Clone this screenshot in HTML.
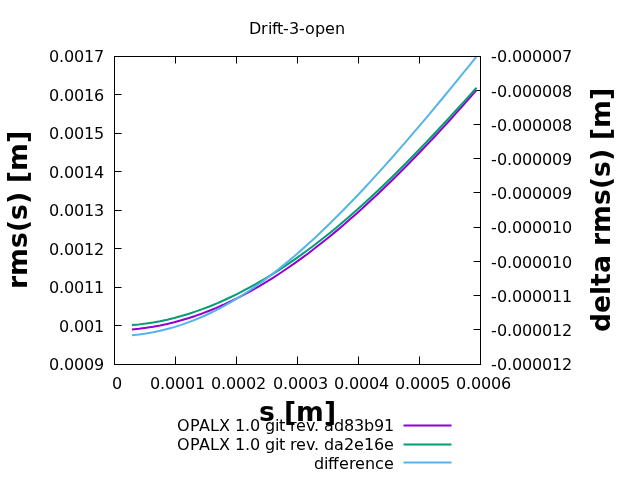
<!DOCTYPE html><html><head><meta charset="utf-8"><title>Drift-3-open</title><style>html,body{margin:0;padding:0;background:#fff;overflow:hidden;}svg{display:block;will-change:transform;}text{font-family:"DejaVu Sans","Liberation Sans",sans-serif;font-size:16px;fill:#000;}</style></head><body>
<svg width="640" height="480" viewBox="0 0 640 480">
<g>
<text x="49 59 64 74 84 94" y="62">0.0017</text>
<text x="49 59 64 74 84 94" y="101">0.0016</text>
<text x="49 59 64 74 84 94" y="139">0.0015</text>
<text x="49 59 64 74 84 94" y="178">0.0014</text>
<text x="49 59 64 74 84 94" y="216">0.0013</text>
<text x="49 59 64 74 84 94" y="255">0.0012</text>
<text x="49 59 64 74 84 94" y="293">0.0011</text>
<text x="59 69 74 84 94" y="332">0.001</text>
<text x="49 59 64 74 84 94" y="370">0.0009</text>
<text x="491 497 507 512 522 532 542 552 562" y="62">-0.000007</text>
<text x="491 497 507 512 522 532 542 552 562" y="97">-0.000008</text>
<text x="491 497 507 512 522 532 542 552 562" y="131">-0.000008</text>
<text x="491 497 507 512 522 532 542 552 562" y="165">-0.000009</text>
<text x="491 497 507 512 522 532 542 552 562" y="199">-0.000009</text>
<text x="491 497 507 512 522 532 542 552 562" y="233">-0.000010</text>
<text x="491 497 507 512 522 532 542 552 562" y="268">-0.000010</text>
<text x="491 497 507 512 522 532 542 552 562" y="302">-0.000011</text>
<text x="491 497 507 512 522 532 542 552 562" y="336">-0.000012</text>
<text x="491 497 507 512 522 532 542 552 562" y="370">-0.000012</text>
<text x="112" y="389">0</text>
<text x="150 160 165 175 185 195" y="389">0.0001</text>
<text x="211 221 226 236 246 256" y="389">0.0002</text>
<text x="273 283 288 298 308 318" y="389">0.0003</text>
<text x="334 344 349 359 369 379" y="389">0.0004</text>
<text x="395 405 410 420 430 440" y="389">0.0005</text>
<text x="456 466 471 481 491 501" y="389">0.0006</text>
<text x="249 261 268 272 277 283 289 299 305 315 325 335" y="34">Drift-3-open</text>
<text x="177 190 199 210 219 230 235 245 250 260 265 275 279 285 290 296 306 314 319 324 334 344 354 364 374 384" y="431">OPALX 1.0 git rev. ad83b91</text>
<text x="177 190 199 210 219 230 235 245 250 260 265 275 279 285 290 296 306 314 319 324 334 344 354 364 374 384" y="450">OPALX 1.0 git rev. da2e16e</text>
<text x="314 324 328 333 339 349 355 365 375 384" y="469">difference</text>
<text x="259 275 284 296 324" y="421" style="font-size:26.6667px" font-weight="bold">s [m]</text>
<text x="0 13 41 57 69 85 97 106 118 146" y="0" style="font-size:26.6667px" font-weight="bold" transform="translate(27,289) rotate(-90)">rms(s) [m]</text>
<text x="0 19 37 46 59 77 86 99 127 143 155 171 183 192 204 232" y="0" style="font-size:26.6667px" font-weight="bold" transform="translate(610,332) rotate(-90)">delta rms(s) [m]</text>
</g>
<path d="M114,94.5H121.5M114,133.5H121.5M114,171.5H121.5M114,210.5H121.5M114,248.5H121.5M114,287.5H121.5M114,325.5H121.5M480,90.5H473.5M480,124.5H473.5M480,158.5H473.5M480,192.5H473.5M480,227.5H473.5M480,261.5H473.5M480,295.5H473.5M480,329.5H473.5M175.5,364V356.5M175.5,56V63.5M236.5,364V356.5M236.5,56V63.5M297.5,364V356.5M297.5,56V63.5M358.5,364V356.5M358.5,56V63.5M419.5,364V356.5M419.5,56V63.5" stroke="#000" stroke-width="1" fill="none"/>
<clipPath id="c"><rect x="114" y="56.5" width="367" height="308"/></clipPath>
<g fill="none" stroke-width="2" stroke-linejoin="round" clip-path="url(#c)">
<path d="M132.00,329.41 L139.03,328.70 L146.06,327.80 L153.09,326.70 L160.12,325.40 L167.15,323.91 L174.18,322.21 L181.21,320.32 L188.24,318.22 L195.28,315.93 L202.31,313.44 L209.34,310.75 L216.37,307.87 L223.40,304.79 L230.43,301.52 L237.46,298.06 L244.49,294.42 L251.52,290.59 L258.55,286.58 L265.58,282.39 L272.61,278.03 L279.64,273.49 L286.67,268.78 L293.70,263.91 L300.73,258.87 L307.77,253.68 L314.80,248.32 L321.83,242.82 L328.86,237.17 L335.89,231.37 L342.92,225.43 L349.95,219.36 L356.98,213.15 L364.01,206.81 L371.04,200.34 L378.07,193.75 L385.10,187.04 L392.13,180.21 L399.16,173.27 L406.19,166.22 L413.22,159.06 L420.26,151.79 L427.29,144.42 L434.32,136.95 L441.35,129.38 L448.38,121.71 L455.41,113.95 L462.44,106.10 L469.47,98.15 L476.50,90.11" stroke="#9400d3"/>
<path d="M132.00,325.01 L139.03,324.38 L146.06,323.53 L153.09,322.45 L160.12,321.17 L167.15,319.67 L174.18,317.96 L181.21,316.06 L188.24,313.95 L195.28,311.64 L202.31,309.14 L209.34,306.45 L216.37,303.57 L223.40,300.51 L230.43,297.26 L237.46,293.83 L244.49,290.22 L251.52,286.43 L258.55,282.47 L265.58,278.33 L272.61,274.03 L279.64,269.55 L286.67,264.91 L293.70,260.10 L300.73,255.13 L307.77,250.00 L314.80,244.71 L321.83,239.27 L328.86,233.67 L335.89,227.92 L342.92,222.03 L349.95,215.99 L356.98,209.81 L364.01,203.49 L371.04,197.04 L378.07,190.46 L385.10,183.76 L392.13,176.94 L399.16,170.00 L406.19,162.95 L413.22,155.79 L420.26,148.54 L427.29,141.19 L434.32,133.76 L441.35,126.24 L448.38,118.66 L455.41,111.01 L462.44,103.31 L469.47,95.56 L476.50,87.78" stroke="#009e73"/>
<path d="M132.00,335.21 L139.03,334.47 L146.06,333.49 L153.09,332.26 L160.12,330.80 L167.15,329.08 L174.18,327.11 L181.21,324.89 L188.24,322.42 L195.28,319.70 L202.31,316.73 L209.34,313.50 L216.37,310.04 L223.40,306.33 L230.43,302.37 L237.46,298.18 L244.49,293.76 L251.52,289.11 L258.55,284.24 L265.58,279.15 L272.61,273.84 L279.64,268.33 L286.67,262.62 L293.70,256.72 L300.73,250.62 L307.77,244.35 L314.80,237.90 L321.83,231.29 L328.86,224.51 L335.89,217.58 L342.92,210.51 L349.95,203.29 L356.98,195.95 L364.01,188.48 L371.04,180.89 L378.07,173.18 L385.10,165.37 L392.13,157.47 L399.16,149.46 L406.19,141.37 L413.22,133.20 L420.26,124.94 L427.29,116.62 L434.32,108.22 L441.35,99.75 L448.38,91.23 L455.41,82.64 L462.44,73.99 L469.47,65.28 L476.50,56.52" stroke="#56b4e9"/>
</g>
<rect x="114.5" y="56.5" width="366" height="308" stroke="#000" stroke-width="1" fill="none"/>
<g stroke-width="2">
<path d="M403.5,425.5H451.5" stroke="#9400d3"/>
<path d="M403.5,444.5H451.5" stroke="#009e73"/>
<path d="M403.5,462.5H451.5" stroke="#56b4e9"/>
</g>
</svg></body></html>
